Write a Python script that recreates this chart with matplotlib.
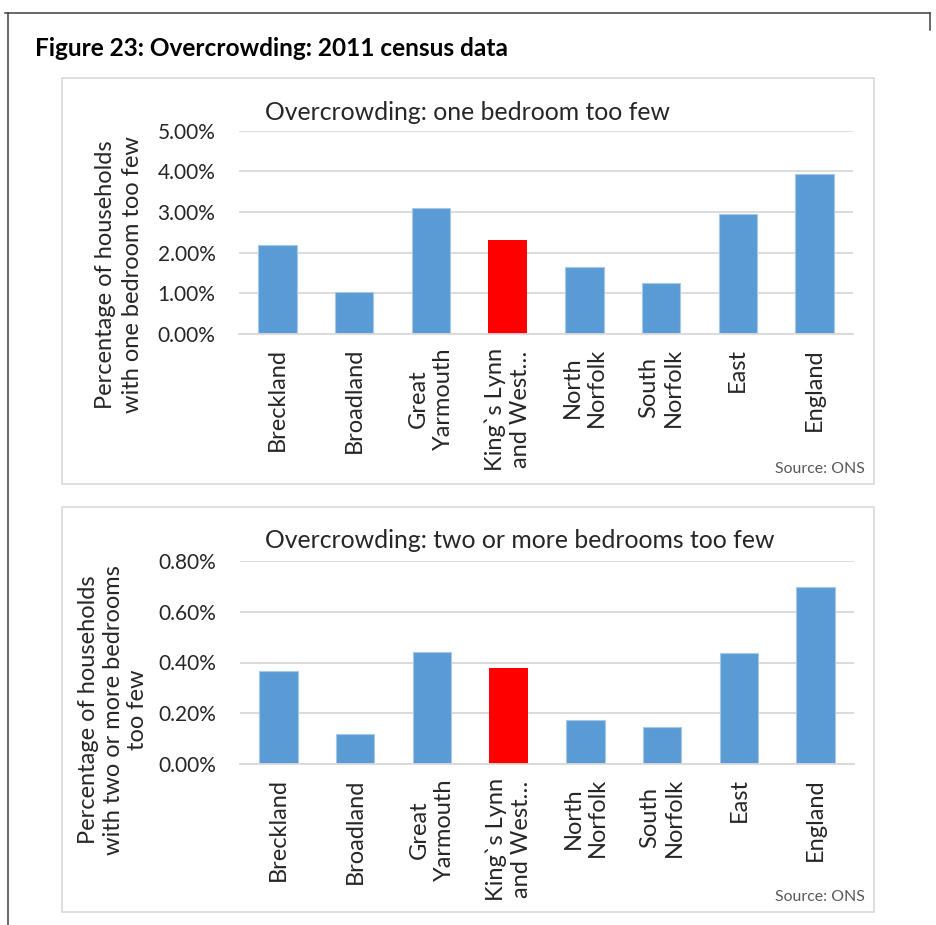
"""Overcrowding bar charts, 2011 census."""

import matplotlib.pyplot as plt
from matplotlib.lines import Line2D
from matplotlib.patches import Rectangle

plt.rcParams['font.family'] = ['Lato', 'DejaVu Sans']

areas = ['Breckland', 'Broadland', 'Great\nYarmouth', 'King`s Lynn\nand West…',
         'North\nNorfolk', 'South\nNorfolk', 'East', 'England']
# Percent of households.
one_too_few = [2.19, 1.03, 3.11, 2.32, 1.65, 1.26, 2.95, 3.93]
two_too_few = [0.365, 0.118, 0.44, 0.378, 0.174, 0.148, 0.436, 0.697]
highlight = 'King`s Lynn\nand West…'

one_ticks = [0, 1, 2, 3, 4, 5]
two_ticks = [0, 0.2, 0.4, 0.6, 0.8]

W, H = 936, 925
BLUE = '#5b9bd5'
RED = '#ff0000'
GRID = '#d9d9d9'
TEXT = '#262626'

fig = plt.figure(figsize=(W / 100, H / 100), dpi=100, facecolor='white')


def fx(px):
    return px / W


def fy(px):
    return 1 - px / H


# Outer document frame (top and left edges only visible).
fig.add_artist(Line2D([fx(5), fx(930)], [fy(13), fy(13)], color='#404040',
                      lw=1.1, transform=fig.transFigure))
fig.add_artist(Line2D([fx(930), fx(930)], [fy(13), fy(30)], color='#404040',
                      lw=1.1, transform=fig.transFigure))
fig.add_artist(Line2D([fx(8), fx(8)], [fy(13), 0], color='#404040', lw=1.1,
                      transform=fig.transFigure))

fig.text(fx(35), fy(48), 'Figure 23: Overcrowding: 2011 census data',
         fontsize=17.6, fontweight='bold', color='black', va='center',
         ha='left')


def panel(box, ax_box, values, ticks, ylabel, ylabel_xy, spacing, title, fmt):
    # Chart area border.
    x0, y0, x1, y1 = box
    fig.add_artist(Rectangle((fx(x0), fy(y1)), fx(x1) - fx(x0), fy(y0) - fy(y1),
                             transform=fig.transFigure, facecolor='none',
                             edgecolor=GRID, lw=1.2))
    ax0, ay0, ax1, ay1 = ax_box
    ax = fig.add_axes([fx(ax0), fy(ay1), fx(ax1) - fx(ax0), fy(ay0) - fy(ay1)])

    colors = [RED if a == highlight else BLUE for a in areas]
    edges = ['none' if a == highlight else '#a7c7e7' for a in areas]
    ax.bar(range(len(areas)), values, width=0.5, color=colors,
           edgecolor=edges, lw=0.8, zorder=2)

    ax.set_xlim(-0.5, len(areas) - 0.5)
    ax.set_ylim(ticks[0], ticks[-1])
    ax.set_yticks(ticks)
    ax.set_yticklabels([fmt.format(t) for t in ticks])
    ax.set_xticks(range(len(areas)))
    ax.set_xticklabels(areas, rotation=90, ha='center', va='top',
                       multialignment='center')
    ax.tick_params(axis='both', length=0, colors=TEXT)
    ax.tick_params(axis='y', pad=17, labelsize=15)
    ax.tick_params(axis='x', pad=10, labelsize=17)

    ax.yaxis.grid(True, color=GRID, lw=1.3)
    ax.set_axisbelow(True)
    for side in ['top', 'right', 'left']:
        ax.spines[side].set_visible(False)
    ax.spines['bottom'].set_color(GRID)
    ax.spines['bottom'].set_linewidth(1.3)

    fig.text(fx(ylabel_xy[0]), fy(ylabel_xy[1]), ylabel, rotation=90,
             ha='center', va='center', multialignment='center',
             fontsize=17, color=TEXT, linespacing=spacing)
    fig.text(fx(265), fy(y0 + 34), title, fontsize=17.8, color=TEXT,
             ha='left', va='center')
    fig.text(fx(x1 - 9), fy(y1 - 15), 'Source: ONS', fontsize=11.4,
             color='#595959', ha='right', va='center')
    return ax


panel((62, 78, 874, 484), (239, 130.7, 853, 334), one_too_few, one_ticks,
      'Percentage of households\nwith one bedroom too few', (119, 275), 1.35,
      'Overcrowding: one bedroom too few', '{:.2f}%')
panel((62, 507, 874, 912), (240, 560.7, 854, 764.3), two_too_few, two_ticks,
      'Percentage of households\nwith two or more bedrooms\ntoo few', (113, 710),
      1.2, 'Overcrowding: two or more bedrooms too few', '{:.2f}%')

plt.savefig('out.png', dpi=100, facecolor='white')
